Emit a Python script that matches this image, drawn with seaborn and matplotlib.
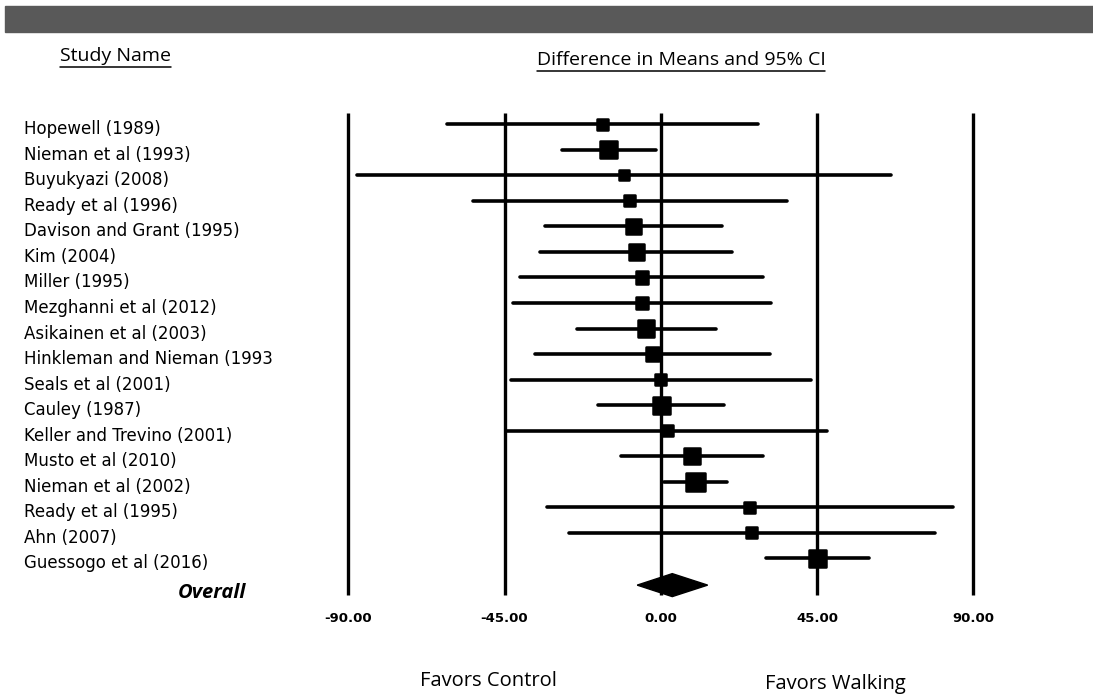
import numpy as np
import pandas as pd
import matplotlib
matplotlib.use("Agg")
import matplotlib.pyplot as plt
from matplotlib.lines import Line2D
from matplotlib.markers import MarkerStyle
from matplotlib.patches import Rectangle
import seaborn as sns

# study data
studies = ["Hopewell (1989)", "Nieman et al (1993)", "Buyukyazi (2008)", "Ready et al (1996)",
           "Davison and Grant (1995)", "Kim (2004)", "Miller (1995)", "Mezghanni et al (2012)",
           "Asikainen et al (2003)", "Hinkleman and Nieman (1993", "Seals et al (2001)",
           "Cauley (1987)", "Keller and Trevino (2001)", "Musto et al (2010)",
           "Nieman et al (2002)", "Ready et al (1995)", "Ahn (2007)", "Guessogo et al (2016)"]
mean_diff = [-16.9, -15.0, -10.7, -8.9, -7.9, -7.1, -5.5, -5.4, -4.3, -2.4,
             0.0, 0.1, 1.8, 9.0, 10.0, 25.6, 26.2, 45.1]
ci_low = [-61.7, -28.4, -87.6, -54.0, -33.4, -34.8, -40.6, -42.5, -24.2, -36.2,
          -43.2, -18.0, -44.4, -11.5, 1.0, -32.9, -26.4, 30.3]
ci_high = [27.9, -1.5, 66.2, 36.3, 17.5, 20.6, 29.5, 31.7, 15.8, 31.5,
           43.3, 18.3, 47.8, 29.5, 19.0, 84.2, 79.0, 60.1]
# relative study weight (drawn as marker size)
weight = [12, 18, 11, 12, 16, 16, 13, 13, 17, 14, 12, 18, 12, 17, 19, 12, 12, 18]

overall_mean = 3.3
overall_low = -6.8
overall_high = 13.5

ticks = [-90, -45, 0, 45, 90]

df = pd.DataFrame({"study": studies, "md": mean_diff, "lo": ci_low, "hi": ci_high,
                   "w": weight})
df["row"] = np.arange(len(df))

W, H = 1093, 696
sns.set_style("white")
plt.rcParams["text.color"] = "black"
fig = plt.figure(figsize=(W / 100, H / 100), dpi=100)
ax = fig.add_axes([0, 0, 1, 1])

# pixel mapping: x_px = 660.8 + 3.472 * value, y_px = 124.3 + 25.53 * row
ax.set_xlim((0 - 660.8) / 3.472, (W - 660.8) / 3.472)
ax.set_ylim((H - 124.3) / 25.53, (0 - 124.3) / 25.53)
ax.axis("off")

# reference lines at tick positions
for t in ticks:
    ax.plot([t, t], [-0.44, 18.45], color="black", lw=2.4, solid_capstyle="butt", zorder=1)

# confidence intervals
ax.hlines(df["row"], df["lo"], df["hi"], color="black", lw=2.6, capstyle="round", zorder=2)

# point estimates, size by weight
sizes = {w: (w * 0.72 - 0.6) ** 2 for w in df["w"].unique()}
sns.scatterplot(data=df, x="md", y="row", size="w", sizes=sizes, legend=False,
                marker=MarkerStyle("s", joinstyle="round"), color="black",
                edgecolor="black", linewidth=1.8, ax=ax, zorder=3)
ax.set_xlabel("")
ax.set_ylabel("")

# overall diamond
oy = 18.05
ax.fill([overall_low, overall_mean, overall_high, overall_mean],
        [oy, oy - 0.45, oy, oy + 0.45], color="black", zorder=3)

# study names
for _, r in df.iterrows():
    fig.text(24 / W, 1 - (124.3 + 25.53 * r["row"] + 5) / H, r["study"],
             fontsize=12, family="DejaVu Sans", va="center", ha="left")

# tick labels
for t in ticks:
    fig.text((660.8 + 3.472 * t) / W, 1 - 619 / H, f"{t:.2f}", fontsize=9.5,
             fontweight="bold", family="DejaVu Sans", ha="center", va="center")

fig.text(178 / W, 1 - 593 / H, "Overall", fontsize=14.5, fontweight="bold",
         style="italic", family="Open Sans", ha="left", va="center")
fig.text(488 / W, 1 - 681 / H, "Favors Control", fontsize=14.5, family="Open Sans",
         ha="center", va="center")
fig.text(835 / W, 1 - 684 / H, "Favors Walking", fontsize=14.5, family="Open Sans",
         ha="center", va="center")

h1 = fig.text(60 / W, 1 - 56 / H, "Study Name", fontsize=14, family="Open Sans",
              ha="left", va="center")
h2 = fig.text(681 / W, 1 - 60 / H, "Difference in Means and 95% CI", fontsize=14,
              family="Open Sans", ha="center", va="center")

# header band
fig.patches.append(Rectangle((5 / W, 1 - 32 / H), 1, 26 / H, transform=fig.transFigure,
                             color="#595959", zorder=0))

# underline the column headers
fig.canvas.draw()
rend = fig.canvas.get_renderer()
for t, ypx in [(h1, 67), (h2, 71)]:
    bb = t.get_window_extent(renderer=rend)
    fig.lines.append(Line2D([bb.x0 / W, bb.x1 / W], [1 - ypx / H, 1 - ypx / H],
                            transform=fig.transFigure, color="black", lw=1.1))

fig.savefig("out.png", dpi=100)
